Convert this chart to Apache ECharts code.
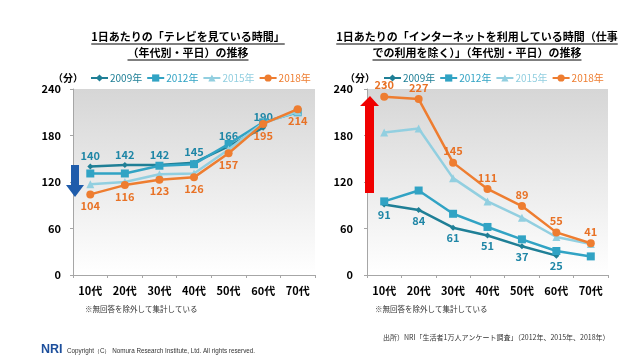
<!DOCTYPE html>
<html>
<head>
<meta charset="utf-8">
<script src="https://cdn.jsdelivr.net/npm/echarts@6/dist/echarts.min.js"></script>
<style>
html,body{margin:0;padding:0;background:#fff;}
#c{width:640px;height:360px;}
</style>
</head>
<body>
<div id="c"></div>
<script>
const categories = ['10代','20代','30代','40代','50代','60代','70代'];
const yTicks = [0, 60, 120, 180, 240];
const seriesNames = ['2009年','2012年','2015年','2018年'];

// TV viewing time (minutes)
const tv2009 = [140, 142, 142, 145, 166, 190];
const tv2012 = [131, 131, 141, 143, 169, 197, 210];
const tv2015 = [117, 120, 130, 131, 162, 196, 211];
const tv2018 = [104, 116, 123, 126, 157, 195, 214];

// Internet usage time (minutes)
const net2009 = [91, 84, 61, 51, 37, 25];
const net2012 = [95, 109, 79, 62, 46, 31, 24];
const net2015 = [184, 189, 125, 95, 74, 49, 40];
const net2018 = [230, 227, 145, 111, 89, 55, 41];

const titleLeft = ['1日あたりの「テレビを見ている時間」', '（年代別・平日）の推移'];
const titleRight = ['1日あたりの「インターネットを利用している時間（仕事', 'での利用を除く）」（年代別・平日）の推移'];
const unitLabel = '（分）';
const noteText = '※無回答を除外して集計している';
const sourceText = '出所）NRI「生活者1万人アンケート調査」（2012年、2015年、2018年）';
const copyrightText = 'Copyright（C） Nomura Research Institute, Ltd. All rights reserved.';

const colors = ['#1f7f96', '#31a3c4', '#92cfe0', '#ee7d30'];
const labelColors = ['#1f86a6', '#31a3c4', '#92cfe0', '#e87226'];
const symbols = ['diamond', 'rect', 'triangle', 'circle'];
const symbolSizes = [6, 8, 8, 8];
const FONT = '"Noto Sans CJK JP", "Noto Sans", sans-serif';

const chart = echarts.init(document.getElementById('c'), null, {renderer: 'canvas'});

function grid(left, right) {
  return {
    left: left, right: right, top: 89, bottom: 85, show: true, borderWidth: 0,
    backgroundColor: new echarts.graphic.LinearGradient(0, 0, 0, 1, [
      {offset: 0, color: '#d6d6d6'}, {offset: 1, color: '#ffffff'}
    ])
  };
}

function xAxis(idx) {
  return {
    type: 'category', gridIndex: idx, data: categories, boundaryGap: true,
    axisLine: {lineStyle: {color: '#a6a6a6', width: 1}},
    axisTick: {show: true, length: 3, lineStyle: {color: '#a6a6a6'}},
    axisLabel: {color: '#000', fontFamily: FONT, fontWeight: 'bold', fontSize: 11, margin: 10},
    splitLine: {show: false}
  };
}
function yAxis(idx, margin) {
  return {
    type: 'value', gridIndex: idx, min: 0, max: 240, interval: 60,
    axisLine: {show: true, lineStyle: {color: '#a6a6a6', width: 1}},
    axisTick: {show: true, length: 3, lineStyle: {color: '#a6a6a6'}},
    axisLabel: {color: '#000', fontFamily: FONT, fontWeight: 'bold', fontSize: 11, margin: margin,
      formatter: v => yTicks.includes(v) ? String(v) : ''},
    splitLine: {show: false}
  };
}

function lineSeries(name, k, data, gi, labelPos) {
  const s = {
    name: name, type: 'line', xAxisIndex: gi, yAxisIndex: gi, data: data,
    symbol: symbols[k], symbolSize: symbolSizes[k], showAllSymbol: true,
    lineStyle: {color: colors[k], width: 2.5},
    itemStyle: {color: colors[k]},
    emphasis: {disabled: true},
    z: 2 + k
  };
  s.label = labelPos ? {show: true, position: labelPos, distance: 2, color: labelColors[k],
      fontFamily: FONT, fontWeight: 'bold', fontSize: 11} : {show: false};
  return s;
}

function legend(left) {
  return {
    left: left, top: 73, itemWidth: 17, itemHeight: 9, itemGap: 4, padding: 0,
    data: seriesNames.map((n, k) => ({name: n, textStyle: {color: colors[k]}})),
    textStyle: {fontFamily: FONT, fontSize: 10, padding: [0, 0, 0, -3]},
    selectedMode: false
  };
}

// measure text for underlines
const mctx = document.createElement('canvas').getContext('2d');
function textW(str, size, weight) {
  mctx.font = (weight || 'normal') + ' ' + size + 'px ' + FONT;
  return mctx.measureText(str).width;
}

function titleGraphics(lines, cx, y0, size) {
  const out = [];
  lines.forEach((t, i) => {
    const y = y0 + i * 16;
    out.push({type: 'text', x: cx, y: y, style: {text: t, fill: '#000', font: 'bold ' + size + 'px ' + FONT, textAlign: 'center', textVerticalAlign: 'middle'}});
    const w = textW(t, size, 'bold');
    out.push({type: 'line', shape: {x1: cx - w / 2, y1: y + 7, x2: cx + w / 2, y2: y + 7}, style: {stroke: '#000', lineWidth: 1}});
  });
  return out;
}

const graphics = [].concat(
  titleGraphics(titleLeft, 188, 37, 11),
  titleGraphics(titleRight, 477, 37, 11),
  [
    {type: 'text', x: 53, y: 78, style: {text: unitLabel, fill: '#000', font: 'bold 10px ' + FONT, textVerticalAlign: 'middle'}},
    {type: 'text', x: 345, y: 78, style: {text: unitLabel, fill: '#000', font: 'bold 10px ' + FONT, textVerticalAlign: 'middle'}},
    {type: 'text', x: 85, y: 309, style: {text: noteText, fill: '#333', font: '7.5px ' + FONT, textVerticalAlign: 'middle'}},
    {type: 'text', x: 375, y: 309, style: {text: noteText, fill: '#333', font: '7.5px ' + FONT, textVerticalAlign: 'middle'}},
    {type: 'text', x: 383, y: 337, style: {text: sourceText, fill: '#333', font: '7px ' + FONT, textVerticalAlign: 'middle'}},
    {type: 'text', x: 41, y: 350, style: {text: 'NRI', fill: '#1d4f9c', font: 'bold 12.5px "Liberation Sans", sans-serif', textVerticalAlign: 'middle'}},
    {type: 'text', x: 67, y: 351, style: {text: copyrightText, fill: '#333', font: '6.3px "Liberation Sans", sans-serif', textVerticalAlign: 'middle'}},
    // blue down arrow
    {type: 'polygon', shape: {points: [[71, 165], [79, 165], [79, 185], [84, 185], [75, 197], [66, 185], [71, 185]]},
      style: {fill: '#1f5cab'}, z: 10},
    // red up arrow
    {type: 'polygon', shape: {points: [[370, 96], [379, 106], [374, 106], [374, 193], [365, 193], [365, 106], [360, 106]]},
      style: {fill: '#f00000'}, z: 10}
  ]
);

const option = {
  animation: false,
  backgroundColor: '#fff',
  textStyle: {fontFamily: FONT},
  legend: [legend(90), legend(383)],
  grid: [grid(73, 325), grid(367, 32)],
  xAxis: [xAxis(0), xAxis(1)],
  yAxis: [yAxis(0, 12), yAxis(1, 14)],
  series: [
    lineSeries('2009年', 0, tv2009, 0, 'top'),
    lineSeries('2012年', 1, tv2012, 0, null),
    lineSeries('2015年', 2, tv2015, 0, null),
    lineSeries('2018年', 3, tv2018, 0, 'bottom'),
    lineSeries('2009年', 0, net2009, 1, 'bottom'),
    lineSeries('2012年', 1, net2012, 1, null),
    lineSeries('2015年', 2, net2015, 1, null),
    lineSeries('2018年', 3, net2018, 1, 'top')
  ],
  graphic: graphics
};
chart.setOption(option);
</script>
</body>
</html>
